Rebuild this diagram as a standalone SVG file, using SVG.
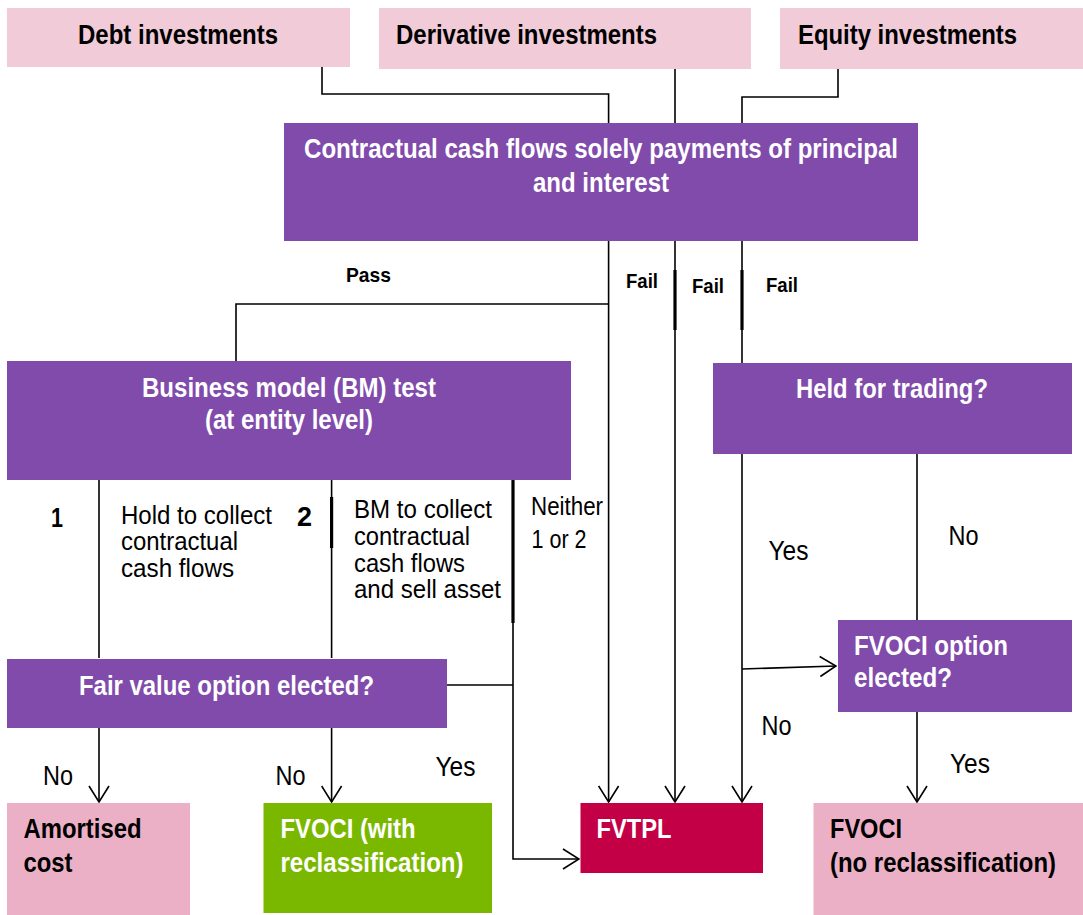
<svg xmlns="http://www.w3.org/2000/svg" width="1083" height="915" viewBox="0 0 1083 915">
<defs>
<style>
.pinkL{fill:#f2cbd8}
.pink{fill:#ecb0c6}
.purple{fill:#804bab}
.green{fill:#7ab800}
.red{fill:#c30045}
text{font-family:"Liberation Sans",Arial,sans-serif}
.hb{font-size:27px;font-weight:bold;fill:#000}
.wb{font-size:27px;font-weight:bold;fill:#fff}
.lb{font-size:21px;font-weight:bold;fill:#000}
.lr{font-size:27px;fill:#000}
.lm{font-size:25px;fill:#000}
.ln{fill:none;stroke:#000;stroke-width:1.6}
.thick{fill:none;stroke:#000;stroke-width:3.2}
</style>
<marker id="arr" viewBox="0 0 18 22" refX="17" refY="11" markerWidth="18" markerHeight="22" markerUnits="userSpaceOnUse" orient="auto">
<path d="M1,1 L17,11 L1,21" fill="none" stroke="#000" stroke-width="1.6"/>
</marker>
</defs>
<rect width="1083" height="915" fill="#fff"/>

<g id="connectors">
<path class="ln" d="M322,65 V94 H608.6 V123"/>
<path class="ln" d="M675,65 V123"/>
<path class="ln" d="M838,69 V97 H742 V125"/>
<path class="ln" d="M608.6,238 V802" marker-end="url(#arr)"/>
<path class="ln" d="M608.6,304 H236 V362"/>
<path class="ln" d="M675,238 V802" marker-end="url(#arr)"/>
<path class="thick" d="M675,270 V330"/>
<path class="ln" d="M742,235 V364"/>
<path class="thick" d="M742,270 V330"/>
<path class="ln" d="M742,454 V802" marker-end="url(#arr)"/>
<path class="ln" d="M917,454 V620"/>
<path class="ln" d="M742,669 L836,666" marker-end="url(#arr)"/>
<path class="ln" d="M917,712 V802" marker-end="url(#arr)"/>
<path class="ln" d="M99,479 V658"/>
<path class="ln" d="M331.6,479 V658"/>
<path class="thick" d="M331.6,497 V548"/>
<path class="ln" d="M513,479 V859 H579" marker-end="url(#arr)"/>
<path class="thick" d="M513,480 V623"/>
<path class="ln" d="M447,685 H513"/>
<path class="ln" d="M99,728 V802" marker-end="url(#arr)"/>
<path class="ln" d="M331.6,728 V802" marker-end="url(#arr)"/>
</g>

<g id="labels">
<text class="lb" x="346" y="282" textLength="45" lengthAdjust="spacingAndGlyphs">Pass</text>
<text class="lb" x="626" y="288" textLength="32" lengthAdjust="spacingAndGlyphs">Fail</text>
<text class="lb" x="692" y="292.5" textLength="32" lengthAdjust="spacingAndGlyphs">Fail</text>
<text class="lb" x="766" y="292" textLength="32" lengthAdjust="spacingAndGlyphs">Fail</text>
<text class="hb" x="51" y="527" textLength="12" lengthAdjust="spacingAndGlyphs">1</text>
<text class="lm" x="121" y="524" textLength="151" lengthAdjust="spacingAndGlyphs">Hold to collect</text>
<text class="lm" x="121" y="550" textLength="117" lengthAdjust="spacingAndGlyphs">contractual</text>
<text class="lm" x="121" y="577" textLength="113" lengthAdjust="spacingAndGlyphs">cash flows</text>
<text class="hb" x="297" y="526" textLength="15" lengthAdjust="spacingAndGlyphs">2</text>
<text class="lm" x="354" y="518" textLength="138" lengthAdjust="spacingAndGlyphs">BM to collect</text>
<text class="lm" x="354" y="545" textLength="116" lengthAdjust="spacingAndGlyphs">contractual</text>
<text class="lm" x="354" y="572" textLength="111" lengthAdjust="spacingAndGlyphs">cash flows</text>
<text class="lm" x="354" y="598" textLength="147" lengthAdjust="spacingAndGlyphs">and sell asset</text>
<text class="lm" x="531" y="515" textLength="72" lengthAdjust="spacingAndGlyphs">Neither</text>
<text class="lm" x="531.5" y="548" textLength="55" lengthAdjust="spacingAndGlyphs">1 or 2</text>
<text class="lr" x="768.5" y="560" textLength="40" lengthAdjust="spacingAndGlyphs">Yes</text>
<text class="lr" x="948.5" y="545" textLength="30" lengthAdjust="spacingAndGlyphs">No</text>
<text class="lr" x="761.5" y="735" textLength="30" lengthAdjust="spacingAndGlyphs">No</text>
<text class="lr" x="43" y="785" textLength="30" lengthAdjust="spacingAndGlyphs">No</text>
<text class="lr" x="275.5" y="785" textLength="30" lengthAdjust="spacingAndGlyphs">No</text>
<text class="lr" x="435.5" y="776" textLength="40" lengthAdjust="spacingAndGlyphs">Yes</text>
<text class="lr" x="950" y="773" textLength="40" lengthAdjust="spacingAndGlyphs">Yes</text>
</g>

<g id="debt">
<rect class="pinkL" x="7" y="8" width="343" height="59"/>
<text class="hb" x="78" y="44" textLength="200" lengthAdjust="spacingAndGlyphs">Debt investments</text>
</g>
<g id="derivative">
<rect class="pinkL" x="379" y="8" width="372" height="61"/>
<text class="hb" x="396" y="44" textLength="261" lengthAdjust="spacingAndGlyphs">Derivative investments</text>
</g>
<g id="equity">
<rect class="pinkL" x="780" y="8" width="303" height="61"/>
<text class="hb" x="798" y="44" textLength="219" lengthAdjust="spacingAndGlyphs">Equity investments</text>
</g>
<g id="sppi">
<rect class="purple" x="284" y="123" width="634" height="118"/>
<text class="wb" x="304" y="158" textLength="594" lengthAdjust="spacingAndGlyphs">Contractual cash flows solely payments of principal</text>
<text class="wb" x="533" y="191.5" textLength="136" lengthAdjust="spacingAndGlyphs">and interest</text>
</g>
<g id="bm-test">
<rect class="purple" x="7" y="361" width="564" height="119"/>
<text class="wb" x="142" y="396.5" textLength="294" lengthAdjust="spacingAndGlyphs">Business model (BM) test</text>
<text class="wb" x="205" y="428.5" textLength="168" lengthAdjust="spacingAndGlyphs">(at entity level)</text>
</g>
<g id="held-for-trading">
<rect class="purple" x="713" y="363" width="359" height="91"/>
<text class="wb" x="796" y="398" textLength="192" lengthAdjust="spacingAndGlyphs">Held for trading?</text>
</g>
<g id="fv-option">
<rect class="purple" x="7" y="659" width="440" height="69"/>
<text class="wb" x="79" y="695" textLength="295" lengthAdjust="spacingAndGlyphs">Fair value option elected?</text>
</g>
<g id="fvoci-option">
<rect class="purple" x="838" y="620" width="234" height="92"/>
<text class="wb" x="854" y="655" textLength="154" lengthAdjust="spacingAndGlyphs">FVOCI option</text>
<text class="wb" x="854" y="687" textLength="98" lengthAdjust="spacingAndGlyphs">elected?</text>
</g>
<g id="amortised-cost">
<rect class="pink" x="7" y="803" width="183" height="112"/>
<text class="hb" x="23.5" y="838" textLength="118" lengthAdjust="spacingAndGlyphs">Amortised</text>
<text class="hb" x="23.5" y="872" textLength="49" lengthAdjust="spacingAndGlyphs">cost</text>
</g>
<g id="fvoci-with">
<rect class="green" x="263.5" y="803" width="228.5" height="110"/>
<text class="wb" x="280.5" y="838" textLength="135" lengthAdjust="spacingAndGlyphs">FVOCI (with</text>
<text class="wb" x="280.5" y="872" textLength="183" lengthAdjust="spacingAndGlyphs">reclassification)</text>
</g>
<g id="fvtpl">
<rect class="red" x="580.5" y="803" width="182.5" height="70"/>
<text class="wb" x="596.5" y="838" textLength="75" lengthAdjust="spacingAndGlyphs">FVTPL</text>
</g>
<g id="fvoci-no">
<rect class="pink" x="813.5" y="803" width="269.5" height="112"/>
<text class="hb" x="830" y="838" textLength="72" lengthAdjust="spacingAndGlyphs">FVOCI</text>
<text class="hb" x="830" y="872" textLength="226" lengthAdjust="spacingAndGlyphs">(no reclassification)</text>
</g>
</svg>
